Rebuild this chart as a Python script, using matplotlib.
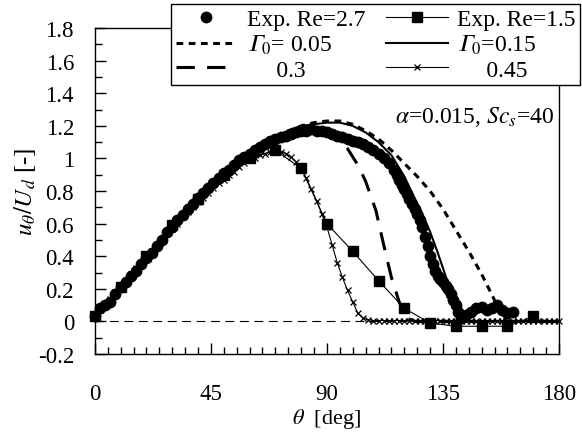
import numpy as np
import matplotlib
matplotlib.use("Agg")
import matplotlib.pyplot as plt
from matplotlib.ticker import MultipleLocator, FuncFormatter

plt.rcParams['font.family'] = ['Liberation Serif', 'DejaVu Serif']
plt.rcParams['mathtext.fontset'] = 'stix'
plt.rcParams['axes.unicode_minus'] = False

# Exp. Re=2.7 (circles)
exp27_theta = [0, 2, 4, 6, 8, 10, 12, 14, 16, 18, 20, 22, 24, 26, 28, 30, 32, 34, 36, 38,
               40, 42, 44, 46, 48, 50, 52, 54, 56, 58, 60, 62, 64, 66, 68, 70, 72, 74, 76, 78,
               80, 82, 84, 86, 88, 90, 92, 94, 96, 98, 100, 102, 104, 106, 108, 110, 112, 114,
               116, 117, 118, 119, 120, 121, 122, 123, 124, 125, 126, 127, 128, 129, 130, 131,
               132, 133, 134, 135, 136, 137, 138, 139, 140, 141, 142, 144, 146, 148, 150, 152,
               154, 156, 158, 160, 162]
exp27_u = [0.03, 0.08, 0.10, 0.12, 0.17, 0.21, 0.24, 0.28, 0.31, 0.35,
           0.39, 0.42, 0.46, 0.50, 0.55, 0.58, 0.62, 0.65, 0.69, 0.72,
           0.76, 0.79, 0.82, 0.85, 0.88, 0.91, 0.93, 0.96, 0.99, 1.01,
           1.03, 1.05, 1.07, 1.09, 1.11, 1.12, 1.13, 1.14, 1.15, 1.16,
           1.17, 1.17, 1.18, 1.17, 1.17, 1.16, 1.15, 1.14, 1.13, 1.12,
           1.11, 1.10, 1.09, 1.07, 1.05, 1.03, 1.00, 0.97,
           0.93, 0.90, 0.87, 0.84, 0.81, 0.78, 0.75, 0.72, 0.69, 0.66, 0.62, 0.58,
           0.52, 0.46, 0.40, 0.35, 0.31, 0.28, 0.26, 0.24, 0.22, 0.20, 0.17, 0.13,
           0.10, 0.06, 0.02, 0.04, 0.06, 0.08, 0.09, 0.07, 0.08, 0.10, 0.07, 0.05, 0.06]

# Exp. Re=1.5 (squares)
exp15_theta = [0, 10, 20, 30, 40, 50, 60, 70, 80, 90, 100, 110, 120, 130, 140, 150, 160, 170]
exp15_u = [0.03, 0.21, 0.40, 0.59, 0.75, 0.90, 1.00, 1.05, 0.94, 0.60,
           0.43, 0.25, 0.08, -0.01, -0.03, -0.03, -0.03, 0.03]

# simulations
g005_theta = [0, 5, 10, 15, 20, 25, 30, 35, 40, 45, 50, 55, 60, 65, 70, 75, 80, 85, 90, 95,
              100, 105, 110, 115, 120, 125, 130, 135, 140, 145, 150, 155, 158, 160, 170, 180]
g005_u = [0.03, 0.11, 0.21, 0.30, 0.39, 0.48, 0.58, 0.66, 0.75, 0.82, 0.90, 0.96, 1.03, 1.08,
          1.13, 1.17, 1.20, 1.22, 1.23, 1.23, 1.21, 1.17, 1.12, 1.05, 0.97, 0.89, 0.80, 0.69,
          0.56, 0.43, 0.29, 0.13, 0.03, 0.0, 0.0, 0.0]

g015_theta = [0, 5, 10, 15, 20, 25, 30, 35, 40, 45, 50, 55, 60, 65, 70, 75, 80, 85, 90, 95,
              100, 105, 110, 115, 120, 123, 127, 130, 133, 136, 139, 141, 143, 160, 180]
g015_u = [0.03, 0.11, 0.21, 0.30, 0.39, 0.48, 0.58, 0.66, 0.75, 0.82, 0.90, 0.96, 1.03, 1.08,
          1.13, 1.17, 1.20, 1.21, 1.22, 1.22, 1.20, 1.16, 1.10, 1.02, 0.89, 0.79, 0.66, 0.55,
          0.42, 0.28, 0.13, 0.04, 0.0, 0.0, 0.0]

g03_theta = [0, 5, 10, 15, 20, 25, 30, 35, 40, 45, 50, 55, 60, 65, 70, 75, 80, 85, 90, 94,
             98, 102, 105, 109, 112, 115, 118, 121, 124, 140, 180]
g03_u = [0.03, 0.11, 0.21, 0.30, 0.39, 0.48, 0.58, 0.66, 0.75, 0.82, 0.90, 0.96, 1.03, 1.08,
         1.13, 1.16, 1.19, 1.19, 1.17, 1.13, 1.06, 0.96, 0.86, 0.68, 0.47, 0.27, 0.12, 0.02,
         0.0, 0.0, 0.0]

g045_theta = list(range(0, 182, 2))
g045_u = [0.03, 0.07, 0.10, 0.14, 0.18, 0.22, 0.25, 0.29, 0.33, 0.36,
          0.40, 0.43, 0.47, 0.50, 0.54, 0.57, 0.60, 0.64, 0.67, 0.70,
          0.73, 0.76, 0.79, 0.82, 0.85, 0.87, 0.90, 0.92, 0.95, 0.97,
          0.99, 1.00, 1.02, 1.03, 1.04, 1.04, 1.04, 1.03, 1.01, 0.98,
          0.94, 0.88, 0.81, 0.74, 0.66, 0.58, 0.47, 0.36, 0.27, 0.19,
          0.12, 0.05, 0.02, 0.01, 0.005, 0.005, 0.005, 0.005, 0.005, 0.005,
          0.005, 0.005, 0.005, 0.005, 0.005, 0.005, 0.005, 0.005, 0.005, 0.005,
          0.005, 0.005, 0.005, 0.005, 0.005, 0.005, 0.005, 0.005, 0.005, 0.005,
          0.005, 0.005, 0.005, 0.005, 0.005, 0.005, 0.005, 0.005, 0.005, 0.005,
          0.005]

fig = plt.figure(figsize=(5.82, 4.35), dpi=100)
ax = fig.add_axes([0.163, 0.184, 0.7975, 0.749])

# zero reference line
ax.plot([0, 180], [0, 0], color='black', lw=0.8, ls=(0, (8, 5)), zorder=1)

h27, = ax.plot(exp27_theta, exp27_u, 'o', color='black', ms=8.5, mew=0, clip_on=False,
               label='Exp. Re=2.7', zorder=3)
h15, = ax.plot(exp15_theta, exp15_u, 's-', color='black', ms=6.5, lw=0.8, clip_on=False,
               label='Exp. Re=1.5', zorder=4)
h005, = ax.plot(g005_theta, g005_u, color='black', lw=2.2, ls=(0, (2.2, 1.8)),
                label='$\U0001D6E4_0$= 0.05', zorder=2)
h015, = ax.plot(g015_theta, g015_u, color='black', lw=1.5, label='$\U0001D6E4_0$=0.15', zorder=2)
h03, = ax.plot(g03_theta, g03_u, color='black', lw=2.2, ls=(0, (6, 4)), label='     0.3', zorder=2)
h045, = ax.plot(g045_theta, g045_u, 'x-', color='black', lw=0.8, ms=5, mew=0.9, clip_on=False,
                label='     0.45', zorder=2)

ax.set_xlim(0, 180)
ax.set_ylim(-0.2, 1.8)
ax.xaxis.set_major_locator(MultipleLocator(45))
ax.xaxis.set_minor_locator(MultipleLocator(5))
ax.yaxis.set_major_locator(MultipleLocator(0.2))
ax.yaxis.set_minor_locator(MultipleLocator(0.1))
ax.yaxis.set_major_formatter(FuncFormatter(lambda v, p: '%g' % round(v, 2)))
ax.tick_params(which='both', direction='in', top=False, right=False, labelsize=16.5)
ax.tick_params(which='major', length=8, width=1)
ax.tick_params(which='minor', length=5, width=1)
ax.tick_params(axis='y', pad=15)
ax.tick_params(axis='x', pad=21)
for s in ax.spines.values():
    s.set_linewidth(1)

ax.set_xlabel(r'$\theta$  [deg]', fontsize=16, labelpad=1)
ax.set_ylabel(r'$u_\theta/U_d$ [-]', fontsize=18, labelpad=0)

ax.text(178, 1.26, r'$\alpha$=0.015, $Sc_s$=40', fontsize=17, ha='right', va='center')

hs = [h27, h005, h03, h15, h015, h045]
leg = fig.legend(hs, [h.get_label() for h in hs],
                 loc='upper right', bbox_to_anchor=(0.997, 0.989), ncol=2,
                 fontsize=17, frameon=True, fancybox=False, framealpha=1,
                 edgecolor='black', handlelength=2.6, handletextpad=0.4,
                 columnspacing=0.9, labelspacing=0.12, borderpad=0.2, borderaxespad=0)
leg.get_frame().set_linewidth(1)

fig.savefig('out.png', dpi=100)
